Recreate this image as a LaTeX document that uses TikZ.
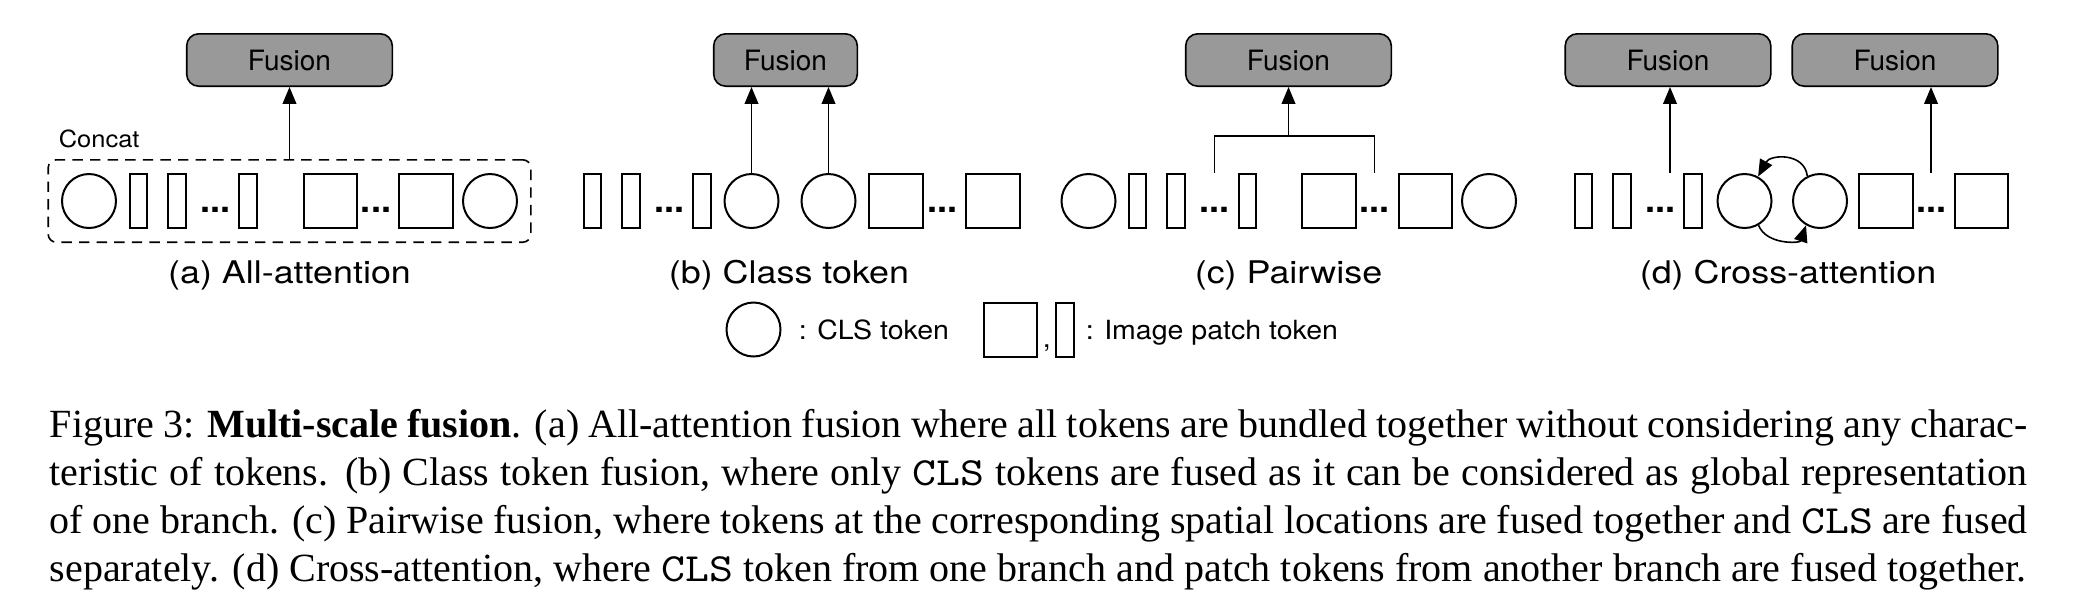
\documentclass[tikz,border=0pt]{standalone}
\usepackage{fontspec}
\setmainfont{Liberation Serif}
\setmonofont{Latin Modern Mono}[FakeStretch=1.14]
\newfontfamily\helv{TeX Gyre Heros}
\newfontfamily\helvwide[FakeStretch=1.15]{TeX Gyre Heros}
\newfontfamily\helvlegend[FakeStretch=1.08]{TeX Gyre Heros}
\usepackage{tikz}
\usetikzlibrary{arrows.meta,shapes,fit}
\tikzstyle{clstoken}=[circle,draw,line width=0.5pt,minimum size=13.5pt,inner sep=0pt]
\tikzstyle{patchtoken}=[rectangle,draw,line width=0.5pt,minimum width=13.3pt,minimum height=13.5pt,inner sep=0pt]
\tikzstyle{thintoken}=[rectangle,draw,line width=0.5pt,minimum width=4.3pt,minimum height=13.5pt,inner sep=0pt]
\tikzstyle{fusion}=[rectangle,rounded corners=3pt,draw,line width=0.4pt,fill=black!40,minimum width=51.4pt,minimum height=13.1pt,inner sep=0pt,font=\helv\fontsize{7pt}{8pt}\selectfont]
\tikzstyle{skipdots}=[inner sep=0pt,font=\helv\bfseries\fontsize{9pt}{10pt}\selectfont]
\tikzstyle{concatbox}=[draw,line width=0.4pt,dash pattern=on 2.6pt off 1.8pt,rounded corners=2pt,inner xsep=3.2pt,inner ysep=3.3pt]
\tikzstyle{edge}=[draw,line width=0.4pt,-{Triangle[length=4.2pt,width=3.4pt]}]
\tikzstyle{bracket}=[draw,line width=0.4pt]
\tikzstyle{sublabel}=[inner sep=0pt,anchor=base,font=\helvwide\fontsize{7.8pt}{9pt}\selectfont]
\tikzstyle{legendtext}=[inner sep=0pt,anchor=base west,font=\helvlegend\fontsize{6.6pt}{8pt}\selectfont]

\begin{document}
\begin{tikzpicture}[x=0.25pt,y=-0.25pt]
    \useasboundingbox (0,0) rectangle (2085,612);

    % fusion blocks
    \foreach \pos/ \name in {(289.5,60)/fa, (1288.5,60)/fc, (1668,60)/fd1, (1895,60)/fd2}
        \node[fusion] (\name) at \pos {Fusion};
    \node[fusion,minimum width=35.9pt] (fb) at (785.5,60) {Fusion};

    % token rows
    \foreach \pos/ \name in {(89,201)/ca1, (490,201)/ca2, (751.5,201)/cb1, (828.5,201)/cb2,
                             (1088.5,201)/cc1, (1489,201)/cc2, (1744.5,201)/cd1, (1820,201)/cd2}
        \node[clstoken] (\name) at \pos {};
    \foreach \pos/ \name in {(138.5,201)/ta1, (177,201)/ta2, (248,201)/ta3,
                             (592.5,201)/tb1, (631,201)/tb2, (702,201)/tb3,
                             (1137.5,201)/tc1, (1176,201)/tc2, (1247.5,201)/tc3,
                             (1583.5,201)/td1, (1622,201)/td2, (1693,201)/td3}
        \node[thintoken] (\name) at \pos {};
    \foreach \pos/ \name in {(330.5,201)/pa1, (426,201)/pa2, (896,201)/pb1, (993,201)/pb2,
                             (1329,201)/pc1, (1425.5,201)/pc2, (1886,201)/pd1, (1981.5,201)/pd2}
        \node[patchtoken] (\name) at \pos {};
    \foreach \pos/ \name in {(215.5,209.5)/da1, (376,209.5)/da2, (669.5,209.5)/db1, (942,209.5)/db2,
                             (1214.5,209.5)/dc1, (1374.5,209.5)/dc2, (1660.5,209.5)/dd1, (1931,209.5)/dd2}
        \node[skipdots] (\name) at \pos {...};

    % (a) all-attention
    \node[concatbox, fit=(ca1)(ca2)] (concat) {};
    \node[legendtext,font=\helvlegend\fontsize{5.9pt}{7pt}\selectfont] (concatlabel) at (58,147) {Concat};
    \draw[edge] (concat.north) -- (fa.south);

    % (b) class token
    \foreach \source in {cb1,cb2}
        \draw[edge] (\source.north) -- (\source.north |- fb.south);

    % (c) pairwise
    \coordinate (jc) at (1288.5,136);
    \path[bracket] (dc1 |- tc1.north) |- (jc) -| (dc2 |- tc1.north);
    \draw[edge] (jc) -- (fc.south);

    % (d) cross-attention
    \coordinate (sd1) at (1670,173);
    \draw[edge] (sd1) -- (sd1 |- fd1.south);
    \draw[edge] (dd2 |- td1.north) -- (dd2 |- fd2.south);
    \draw[edge] (cd2.117) .. controls +(-3,-24) and +(12,-22) .. (cd1.61);
    \draw[edge] (cd1.-60) .. controls +(8,20) and +(-6,18) .. (cd2.-120);

    \node[sublabel] (la) at (289.5,283) {(a) All-attention};
    \node[sublabel] (lb) at (789,283) {(b) Class token};
    \node[sublabel] (lc) at (1288.5,283) {(c) Pairwise};
    \node[sublabel] (ld) at (1788,283) {(d) Cross-attention};

    % legend
    \node[clstoken] (lcls) at (753.5,329.5) {};
    \node[legendtext] (lclstext) at (798,339) {: CLS token};
    \node[patchtoken] (lpatch) at (1010.5,329.5) {};
    \node[legendtext] (lcomma) at (1042,347) {,};
    \node[thintoken] (lthin) at (1065,329.5) {};
    \node[legendtext] (lpatchtext) at (1085,339) {: Image patch token};

    \node[anchor=base west,text width=494.5pt,align=justify,inner sep=0pt,
          font=\fontsize{10pt}{12pt}\selectfont] (caption) at (49,437)
        {Figure 3: \textbf{Multi-scale fusion}. (a) All-attention fusion where all tokens are bundled together without considering any charac-\linebreak
         teristic of tokens. (b) Class token fusion, where only \texttt{CLS} tokens are fused as it can be considered as global representation\linebreak
         of one branch. (c) Pairwise fusion, where tokens at the corresponding spatial locations are fused together and \texttt{CLS} are fused\linebreak
         separately. (d) Cross-attention, where \texttt{CLS} token from one branch and patch tokens from another branch are fused together.};
\end{tikzpicture}
\end{document}
